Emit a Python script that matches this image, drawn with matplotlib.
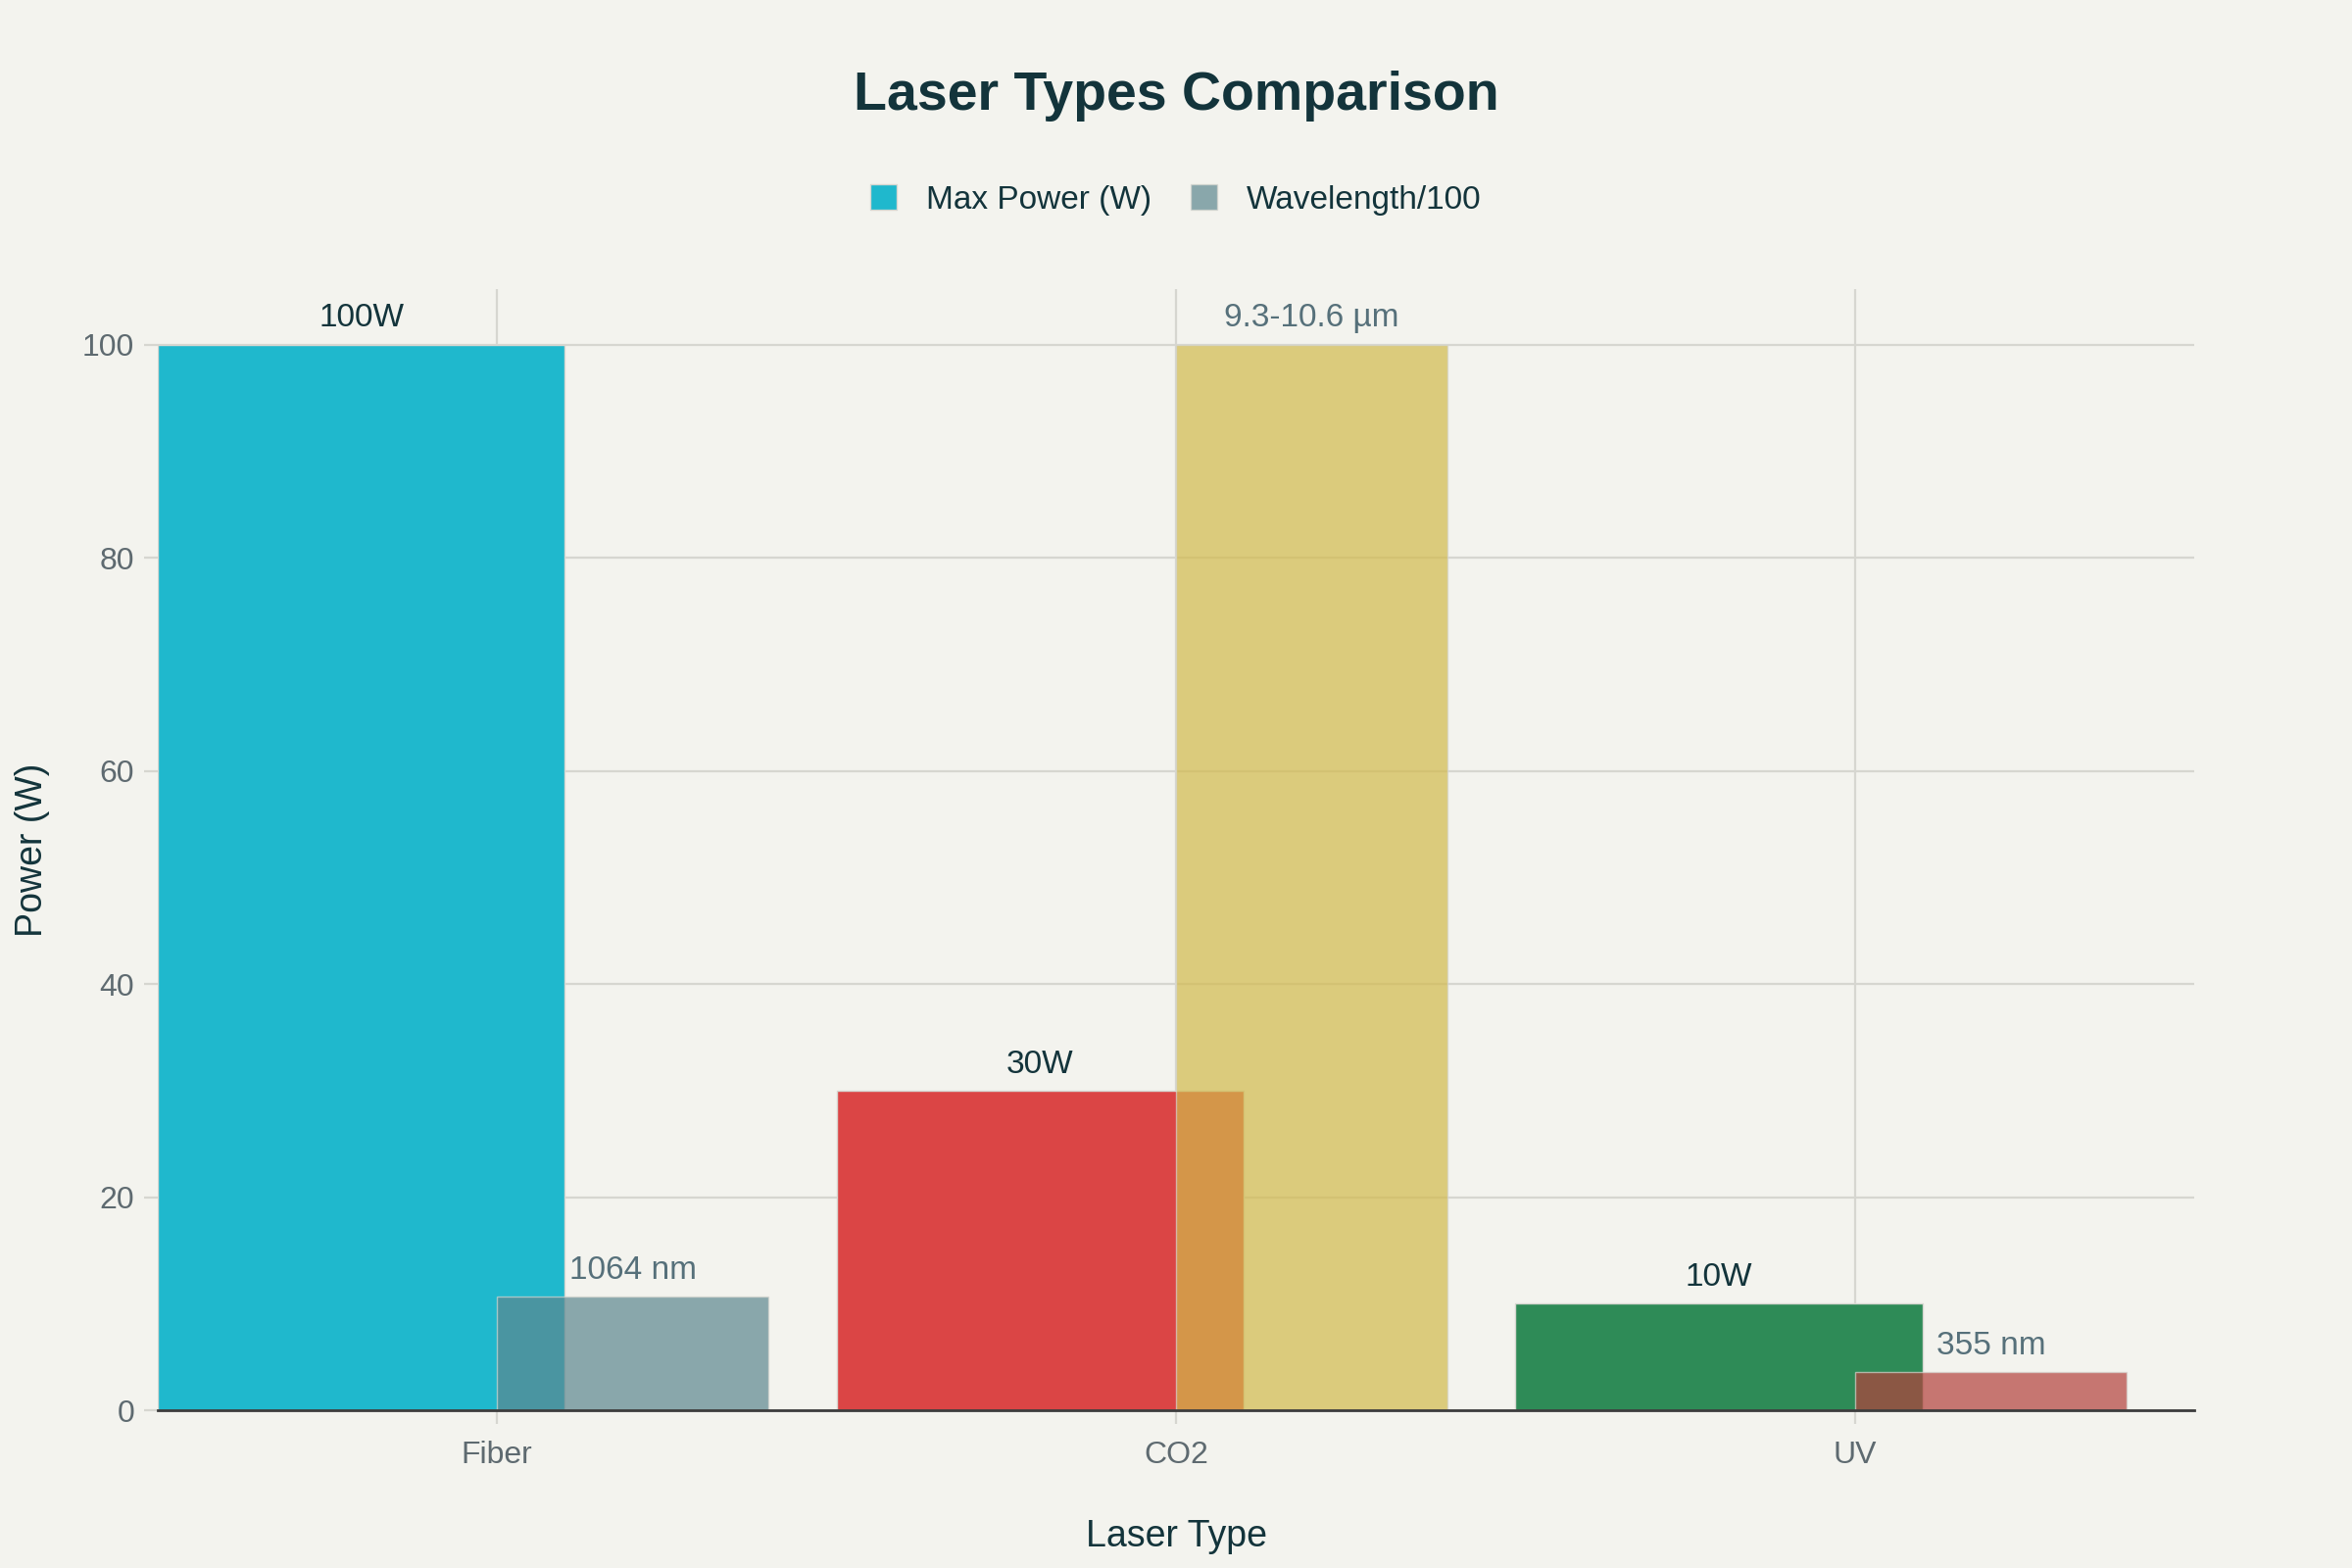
import matplotlib.pyplot as plt
from matplotlib.patches import Patch

plt.rcParams['font.family'] = ['Liberation Sans', 'DejaVu Sans']

# Data
laser_types = ['Fiber', 'CO2', 'UV']
max_power = [100, 30, 10]
wavelength_scaled = [10.64, 100, 3.55]
power_labels = ['100W', '30W', '10W']
wavelength_labels = ['1064 nm', '9.3-10.6 µm', '355 nm']

# Colors
BG = '#F3F3EE'
DARK = '#13343B'
TICK_COLOR = '#5E6A70'
GRID = '#D6D6D0'
power_colors = ['#1FB8CD', '#DB4545', '#2E8B57']
wave_colors = ['#5D878F', '#D2BA4C', '#B4413C']
WAVE_ALPHA = 0.7

fig = plt.figure(figsize=(12, 8), dpi=200, facecolor=BG)
ax = fig.add_axes([0.067, 0.1006, 0.866, 0.715])
ax.set_facecolor(BG)

x = range(len(laser_types))
power_x = [i - 0.2 for i in x]
wave_x = [i + 0.2 for i in x]

ax.bar(power_x, max_power, width=0.6, color=power_colors, zorder=2,
       edgecolor='#D6D6D0', linewidth=0.5)
ax.bar(wave_x, wavelength_scaled, width=0.4, color=wave_colors, alpha=WAVE_ALPHA,
       zorder=3, edgecolor='#D6D6D0', linewidth=0.5)

for xi, val, lab in zip(power_x, max_power, power_labels):
    ax.annotate(lab, (xi, val), xytext=(0, 4), textcoords='offset points',
                ha='center', va='bottom', fontsize=12, color=DARK, zorder=5)
for xi, val, lab in zip(wave_x, wavelength_scaled, wavelength_labels):
    ax.annotate(lab, (xi, val), xytext=(0, 4), textcoords='offset points',
                ha='center', va='bottom', fontsize=12, color='#56707A', zorder=5)

ax.set_xlim(-0.5, 2.5)
ax.set_ylim(0, 105.2)
ax.set_xticks(list(x))
ax.set_xticklabels(laser_types)
ax.set_yticks([0, 20, 40, 60, 80, 100])
ax.tick_params(axis='both', colors=GRID, labelcolor=TICK_COLOR, labelsize=11.5,
               length=5, width=0.8)
ax.tick_params(axis='x', pad=6)
ax.grid(True, color=GRID, linewidth=0.8, zorder=0)
ax.set_axisbelow(True)

for side in ['top', 'right', 'left']:
    ax.spines[side].set_visible(False)
ax.spines['bottom'].set_color('#3C3C3C')
ax.spines['bottom'].set_linewidth(1)
ax.spines['bottom'].set_zorder(4)

ax.set_xlabel('Laser Type', fontsize=13.5, color=DARK, labelpad=18)
ax.set_ylabel('Power (W)', fontsize=13.5, color=DARK, labelpad=12)

fig.text(0.5, 0.939, 'Laser Types Comparison', ha='center', va='center',
         fontsize=20, fontweight='bold', color=DARK)

handles = [Patch(facecolor=power_colors[0], edgecolor='#D6D6D0', linewidth=0.5),
           Patch(facecolor=wave_colors[0], alpha=WAVE_ALPHA, edgecolor='#D6D6D0', linewidth=0.5)]
fig.legend(handles, ['Max Power (W)', 'Wavelength/100'], loc='center',
           bbox_to_anchor=(0.5, 0.8725), ncol=2, frameon=False, fontsize=12,
           handlelength=0.8, handleheight=0.8, columnspacing=1.2, handletextpad=0.9,
           labelcolor=DARK)

fig.savefig('out.png', dpi=200, facecolor=BG)
